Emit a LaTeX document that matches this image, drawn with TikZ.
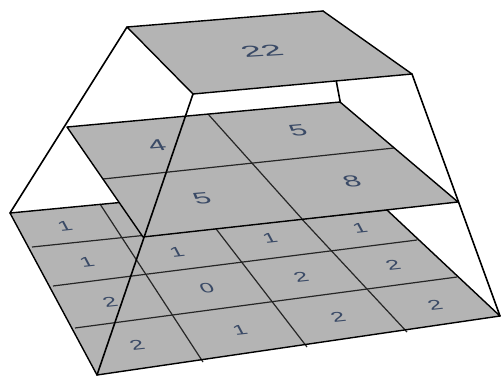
\documentclass[tikz,border=0pt]{standalone}
\usepackage{fontspec}
\setmainfont{Liberation Sans}
\definecolor{planegray}{RGB}{180,180,180}
\definecolor{digitblue}{RGB}{58,74,102}
\begin{document}
\begin{tikzpicture}[x=1bp,y=-1bp,
  gridline/.style={draw=black!85, line width=1.2bp},
  edgeline/.style={draw=black, line width=1.4bp, line join=round},
  rayline/.style={draw=black, line width=1.6bp, line cap=round},
  face/.style={fill=planegray},
  lowlab/.style={text=digitblue, inner sep=0pt, font=\fontsize{18}{18}\selectfont, cm={1.35,0.14,-0.4,0.75,(0,0)}},
  midlab/.style={text=digitblue, inner sep=0pt, font=\fontsize{21}{21}\selectfont, cm={1.45,0.12,-0.4,0.75,(0,0)}},
  toplab/.style={text=digitblue, inner sep=0pt, font=\fontsize{22}{22}\selectfont, cm={1.65,0.1,-0.45,0.7,(0,0)}}]
\useasboundingbox[fill=white] (0,0) rectangle (501,377);
% ---------- bottom grid ----------
\coordinate (L0) at (10,213);
\coordinate (L1) at (32,247);
\coordinate (L2) at (53,286);
\coordinate (L3) at (75,328);
\coordinate (L4) at (97,375);
\coordinate (R0) at (355,180);
\coordinate (R1) at (388,210);
\coordinate (R2) at (417,240);
\coordinate (R3) at (457,277);
\coordinate (R4) at (500,316);
\coordinate (T1) at (100,204);
\coordinate (T2) at (190,195);
\coordinate (T3) at (272,187);
\coordinate (B1) at (203,362);
\coordinate (B2) at (307,347);
\coordinate (B3) at (407,332);
\fill[face] (L0) -- (R0) -- (R4) -- (L4) -- cycle;
\foreach \i in {1,2,3} {\draw[gridline] (L\i) -- (R\i);}
\foreach \i in {1,2,3} {\draw[gridline] (T\i) -- (B\i);}
\draw[edgeline] (L0) -- (R0) -- (R4) -- (L4) -- cycle;
% bottom labels
\node[lowlab] (g11) at (65,226) {1};
\node[lowlab] (g21) at (87,262) {1};
\node[lowlab] (g22) at (177,252) {1};
\node[lowlab] (g23) at (270,238) {1};
\node[lowlab] (g24) at (360,228) {1};
\node[lowlab] (g31) at (110,302) {2};
\node[lowlab] (g32) at (207,288) {0};
\node[lowlab] (g33) at (301,277) {2};
\node[lowlab] (g34) at (393,265) {2};
\node[lowlab] (g41) at (137,345) {2};
\node[lowlab] (g42) at (240,330) {1};
\node[lowlab] (g43) at (338,317) {2};
\node[lowlab] (g44) at (435,305) {2};
% ---------- top plane corners ----------
\coordinate (P1) at (127,27);
\coordinate (P2) at (323,11);
\coordinate (P3) at (412,74);
\coordinate (P4) at (193,94);
% hidden back-right ray
\draw[rayline] (P2) -- (R0);
% ---------- middle plane ----------
\coordinate (M1) at (67,127);
\coordinate (M2) at (340,102);
\coordinate (M3) at (458,202);
\coordinate (M4) at (143,237);
\coordinate (Ma) at (208,114);
\coordinate (Mb) at (303,220);
\coordinate (Mc) at (103,179);
\coordinate (Md) at (394,148);
\fill[face] (M1) -- (M2) -- (M3) -- (M4) -- cycle;
\draw[gridline] (Ma) -- (Mb);
\draw[gridline] (Mc) -- (Md);
\draw[edgeline] (M1) -- (M2) -- (M3) -- (M4) -- cycle;
\node[midlab] (m11) at (157,145) {4};
\node[midlab] (m12) at (298,130) {5};
\node[midlab] (m21) at (202,198) {5};
\node[midlab] (m22) at (352,181) {8};
% ---------- top plane ----------
\fill[face] (P1) -- (P2) -- (P3) -- (P4) -- cycle;
\draw[edgeline] (P1) -- (P2) -- (P3) -- (P4) -- cycle;
\node[toplab] (t) at (262,51) {22};
% ---------- visible rays ----------
\draw[rayline] (P1) -- (L0);
\draw[rayline] (P4) -- (L4);
\draw[rayline] (P3) -- (R4);
\end{tikzpicture}
\end{document}
